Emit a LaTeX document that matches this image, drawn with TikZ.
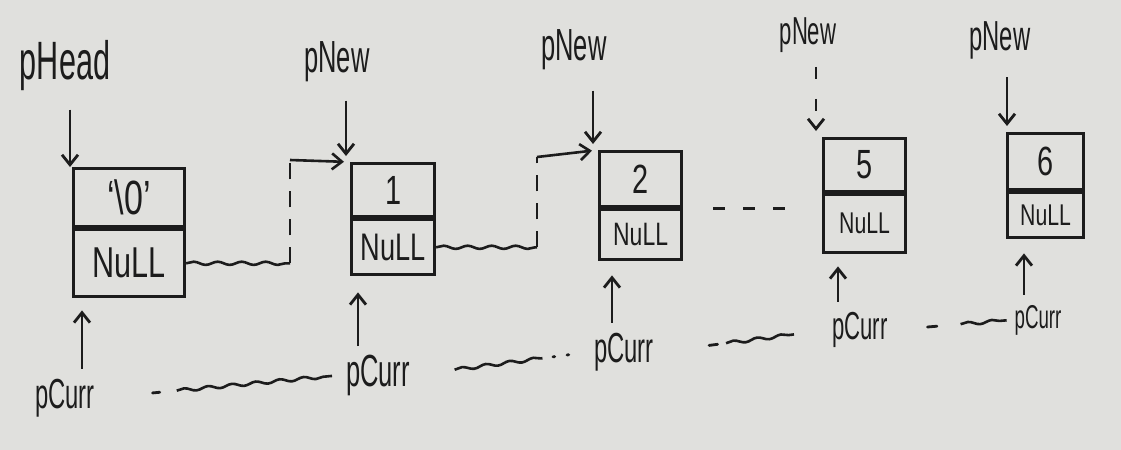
\documentclass[tikz,border=0pt]{standalone}
\usepackage{fontspec}
\setmainfont{Liberation Sans}
\usetikzlibrary{arrows.meta,decorations.pathmorphing,calc}
\definecolor{paper}{RGB}{224,224,221}
\definecolor{ink}{RGB}{28,28,28}
\newcommand\hand[2]{\scalebox{0.85}[1.2]{\fontsize{#1}{#1}\selectfont #2}}
\newcommand\tall[2]{\scalebox{0.85}[1.5]{\fontsize{#1}{#1}\selectfont #2}}
\begin{document}
\begin{tikzpicture}[x=0.5pt,y=-0.5pt,
  cell/.style={draw=ink, line width=1.6pt, inner sep=0pt, anchor=north west, text=ink},
  ptr/.style={draw=ink, line width=1.4pt, -{Straight Barb[length=5pt,width=8pt]}},
  lbl/.style={text=ink, inner sep=2pt},
  wave/.style={draw=ink, line width=1.3pt, decorate,
    decoration={snake, amplitude=0.8pt, segment length=12pt}},
  tick/.style={draw=ink, line width=1.4pt, line cap=round},
  gap/.style={draw=ink, line width=1.3pt, dash pattern=on 8pt off 6pt},
  link/.style={draw=ink, line width=1.3pt, -{Straight Barb[length=5pt,width=8pt]}}]
\fill[paper] (0,0) rectangle (1121,450);
\useasboundingbox (0,0) rectangle (1121,450);

% boxes
\node[cell, minimum width=55.5pt, minimum height=29pt] (d0) at (72,167) {\hand{20}{`\textbackslash 0'}};
\node[cell, minimum width=55.5pt, minimum height=33.5pt] (n0) at (d0.south west) {\hand{18}{NuLL}};
\node[cell, minimum width=41.5pt, minimum height=26.5pt] (d1) at (350,162) {\hand{17}{1}};
\node[cell, minimum width=41.5pt, minimum height=27.5pt] (n1) at (d1.south west) {\hand{16}{NuLL}};
\node[cell, minimum width=41pt, minimum height=27.5pt] (d2) at (598,150) {\hand{17}{2}};
\node[cell, minimum width=41pt, minimum height=25pt] (n2) at (d2.south west) {\hand{13.5}{NuLL}};
\node[cell, minimum width=41pt, minimum height=26.5pt] (d5) at (822,137) {\hand{17}{5}};
\node[cell, minimum width=41pt, minimum height=29pt] (n5) at (d5.south west) {\hand{12.5}{NuLL}};
\node[cell, minimum width=38pt, minimum height=28pt] (d6) at (1006,132) {\hand{17}{6}};
\node[cell, minimum width=38pt, minimum height=22.5pt] (n6) at (d6.south west) {\hand{12.5}{NuLL}};

% top labels
\node[lbl] (head) at (65,66) {\tall{18}{pHead}};
\node[lbl] (new1) at (337,62) {\tall{15}{pNew}};
\node[lbl] (new2) at (574,50) {\tall{15}{pNew}};
\node[lbl] (new5) at (808,35) {\tall{13}{pNew}};
\node[lbl] (new6) at (1000,40) {\tall{14}{pNew}};

% bottom labels
\node[lbl] (cur0) at (65,398) {\tall{14}{pCurr}};
\node[lbl] (cur1) at (378,375) {\tall{15}{pCurr}};
\node[lbl] (cur2) at (624,352) {\tall{14}{pCurr}};
\node[lbl] (cur5) at (860,330) {\tall{13}{pCurr}};
\node[lbl] (cur6) at (1038,320) {\tall{11}{pCurr}};

% pointer arrows (vertical)
\draw[ptr] ([xshift=-1pt]d0.north west |- head.south) ++(0,14) -- ([xshift=-1pt]d0.north west);
\draw[ptr, shorten >=3pt] ([xshift=-2pt]d1.north west |- new1.south) ++(0,14) -- ([xshift=-2pt]d1.north west);
\draw[ptr, shorten >=3pt] ([xshift=-2.5pt]d2.north west |- new2.south) ++(0,16) -- ([xshift=-2.5pt]d2.north west);
\draw[ptr, dash pattern=on 6pt off 10pt, shorten >=3pt] ([xshift=-3pt]d5.north west |- new5.south) ++(0,10) -- ([xshift=-3pt]d5.north west);
\draw[ptr, shorten >=3pt] ([xshift=0.5pt]d6.north west |- new6.south) ++(0,14) -- ([xshift=0.5pt]d6.north west);

\draw[ptr, shorten >=6pt] ([xshift=5pt]n0.south west |- cur0.north) ++(0,-6) -- ([xshift=5pt]n0.south west);
\draw[ptr, shorten >=8pt] ([xshift=4pt]n1.south west |- cur1.north) ++(0,-4) -- ([xshift=4pt]n1.south west);
\draw[ptr, shorten >=7pt] ([xshift=7pt]n2.south west |- cur2.north) ++(0,-6) -- ([xshift=7pt]n2.south west);
\draw[ptr, shorten >=6pt] ([xshift=8pt]n5.south west |- cur5.north) ++(0,-6) -- ([xshift=8pt]n5.south west);
\draw[ptr, shorten >=7pt] ([xshift=9pt]n6.south west |- cur6.north) ++(0,-6) -- ([xshift=9pt]n6.south west);

% links between nodes
\coordinate (c01) at (290,160);
\coordinate (c12) at (537,157);
\draw[wave] (n0.east) -- (n0.east -| c01);
\draw[gap] (n0.east -| c01) -- (c01);
\draw[link, shorten >=3pt] (c01) -- (d1.north west);
\draw[wave] (n1.east) -- (n1.east -| c12);
\draw[gap] (n1.east -| c12) -- (c12);
\draw[link, shorten >=3pt] (c12) -- (d2.north west);
\draw[gap, dash pattern=on 6pt off 9pt] ($(n2.north east)+(30,0)$) -- ($(n2.north east -| n5.west)+(-22,0)$);

% pCurr moves
\draw[tick] ($(cur0.east)!0.22!(cur1.west)$) -- ($(cur0.east)!0.25!(cur1.west)$);
\draw[wave] ($(cur0.east)!0.32!(cur1.west)$) -- ($(cur0.east)!0.96!(cur1.west)$);
\draw[wave] ($(cur1.east)!0.23!(cur2.west)$) -- ($(cur1.east)!0.73!(cur2.west)$);
\draw[tick] ($(cur1.east)!0.79!(cur2.west)$) -- ($(cur1.east)!0.8!(cur2.west)$);
\draw[tick] ($(cur1.east)!0.87!(cur2.west)$) -- ($(cur1.east)!0.88!(cur2.west)$);
\draw[tick] ($(cur2.east)!0.30!(cur5.west)$) -- ($(cur2.east)!0.35!(cur5.west)$);
\draw[wave] ($(cur2.east)!0.40!(cur5.west)$) -- ($(cur2.east)!0.80!(cur5.west)$);
\draw[tick] ($(cur5.east)!0.30!(cur6.west)$) -- ($(cur5.east)!0.38!(cur6.west)$);
\draw[wave] ($(cur5.east)!0.58!(cur6.west)$) -- ($(cur5.east)!0.97!(cur6.west)$);
\end{tikzpicture}
\end{document}
